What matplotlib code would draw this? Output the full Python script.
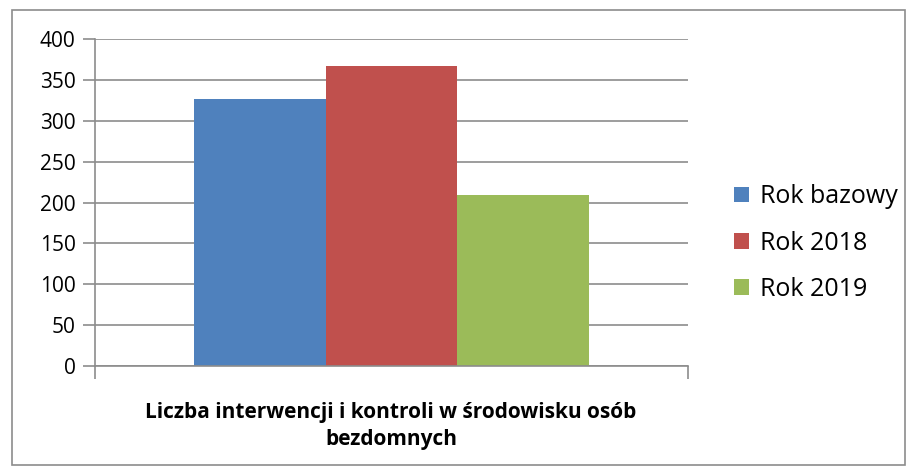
import matplotlib.pyplot as plt
from matplotlib.patches import Rectangle

series = ["Rok bazowy", "Rok 2018", "Rok 2019"]
values = [326, 367, 209]
colors = ["#4f81bd", "#c0504d", "#9bbb59"]
category = "Liczba interwencji i kontroli w środowisku osób\nbezdomnych"

plt.rcParams['font.family'] = ['Open Sans', 'DejaVu Sans']

fig = plt.figure(figsize=(9.09, 4.67), dpi=100)
ax = fig.add_axes([95/909, 1 - 366/467, (688-95)/909, (366-39)/467])

w = 0.2222
for i, (name, v, c) in enumerate(zip(series, values, colors)):
    ax.bar((i - 1) * w, v, width=w, color=c, label=name)

ax.set_xlim(-0.5, 0.5)
ax.set_ylim(0, 400)
ax.set_yticks(range(0, 401, 50))
ax.yaxis.grid(True, color="#8c8c8c", linewidth=1.2)
ax.set_axisbelow(True)
for s in ["top", "right"]:
    ax.spines[s].set_visible(False)
ax.spines["left"].set_color("#8c8c8c")
ax.spines["bottom"].set_color("#8c8c8c")
ax.spines["left"].set_linewidth(1.2)
ax.spines["bottom"].set_linewidth(1.2)
ax.tick_params(axis="y", length=9, color="#8c8c8c", width=1.2, labelsize=15, pad=5)
ax.set_xticks([-0.5, 0.5])
ax.set_xticklabels([])
ax.tick_params(axis="x", length=9, color="#8c8c8c", width=1.2)

fig.text(391/909, 1 - 426/467, category, ha="center", va="center",
         fontsize=15, fontweight="bold", linespacing=1.4)

ax.legend(loc="center left", bbox_to_anchor=(711/909, 1 - 243/467),
          bbox_transform=fig.transFigure, frameon=False, fontsize=18,
          handlelength=0.6, handleheight=0.6, labelspacing=0.85, handletextpad=0.45)

fig.patches.append(Rectangle((12/909, 2/467), (905-12)/909, (457-2)/467,
                             transform=fig.transFigure, fill=False,
                             edgecolor="#8c8c8c", linewidth=1.2))

fig.savefig("out.png", dpi=100)
